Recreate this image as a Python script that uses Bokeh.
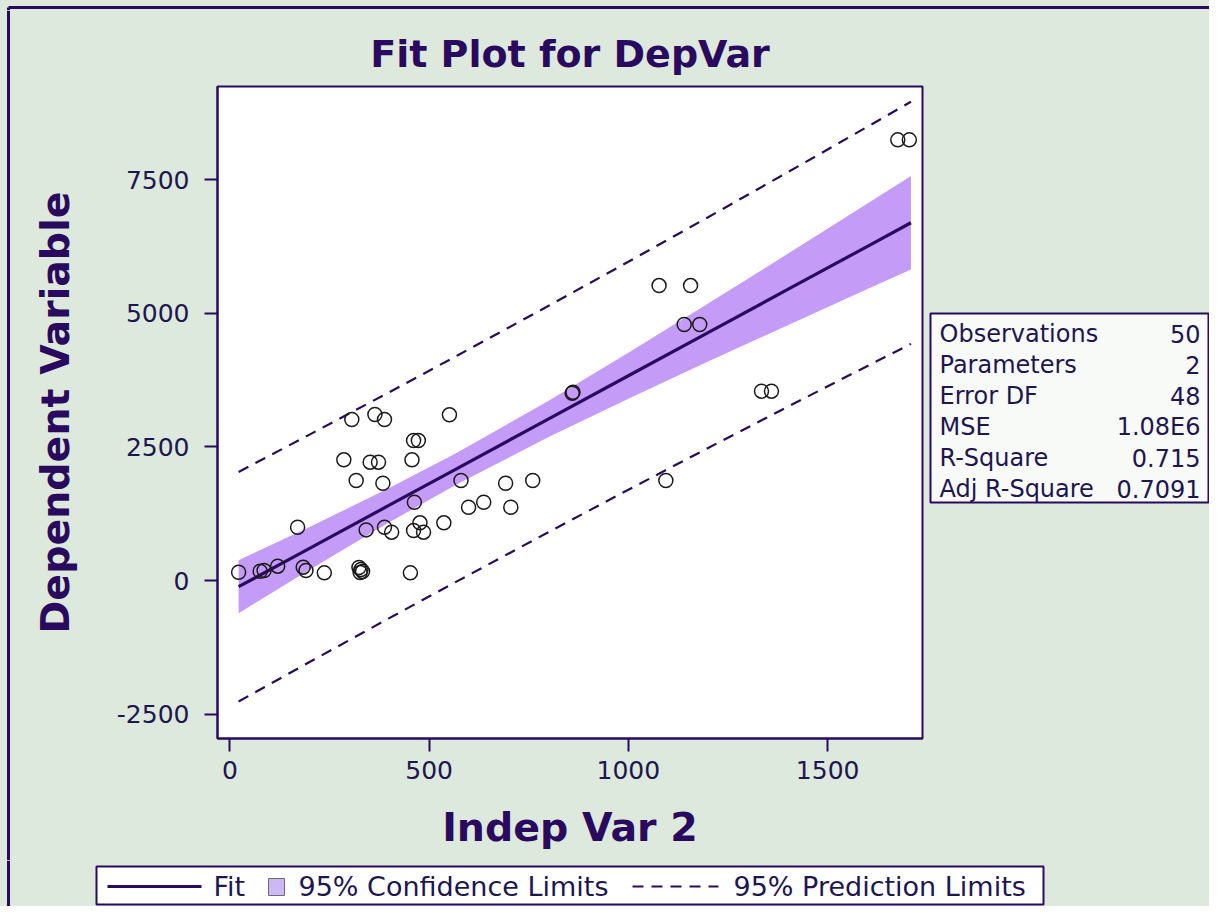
from bokeh.plotting import figure
from bokeh.models import Range1d, FixedTicker
from bokeh.layouts import column, row
from bokeh.core.properties import value
from bokeh.embed import file_html
from bokeh.resources import INLINE

# ---------------- data ----------------
indep = [22, 76, 86, 120, 184, 191, 237, 324, 329, 333, 327, 453,
         170, 342, 388, 406, 461, 477, 486, 537, 463, 317, 384, 580, 599,
         286, 352, 373, 457, 461, 473, 306, 364, 388, 551, 692, 760, 637,
         705, 859, 861, 1077, 1156, 1140, 1179, 1334, 1359, 1094, 1676, 1705]
dep = [155, 174, 187, 268, 250, 187, 143, 243, 206, 168, 150, 143,
       997, 947, 997, 904, 935, 1079, 904, 1079, 1464, 1870, 1820, 1870, 1371,
       2257, 2213, 2213, 2257, 2618, 2618, 3011, 3105, 3011, 3099, 1820, 1870, 1464,
       1371, 3503, 3522, 5517, 5517, 4788, 4788, 3541, 3541, 1870, 8242, 8242]

band_x = [22, 200, 400, 571, 800, 1000, 1200, 1400, 1600, 1709]
fit_y = [-116, 602, 1409, 2099, 3023, 3830, 4637, 5444, 6251, 6691]
lower_cl = [-611, 203, 1089, 1804, 2684, 3402, 4095, 4776, 5451, 5817]
upper_cl = [379, 1001, 1729, 2394, 3362, 4258, 5179, 6112, 7051, 7565]
lower_pl = [-2263, -1525, -704, -11, 907, 1698, 2479, 3251, 4014, 4426]
upper_pl = [2031, 2729, 3522, 4209, 5139, 5962, 6795, 7637, 8488, 8956]

x_ticks = [0, 500, 1000, 1500]
y_ticks = [-2500, 0, 2500, 5000, 7500]

stat_names = ["Observations", "Parameters", "Error DF", "MSE", "R-Square", "Adj R-Square"]
stat_values = ["50", "2", "48", "1.08E6", "0.715", "0.7091"]

legend_labels = ["Fit", "95% Confidence Limits", "95% Prediction Limits"]

# ---------------- styling ----------------
BG = "#dde9dd"
DARK = "#2a0a5e"
TXT = "#1e1650"
BAND = "#c49bf6"
LEG_SQ = "#cbb8f5"
FONT = "DejaVu Sans"
W = 1209
TOP_H = 10
LEFT_W = 10
ROW_H = 850
MAIN_W = 915
SIDE_W = W - LEFT_W - MAIN_W
STRIP_H = 46


def blank(w, h):
    """A figure whose frame is the whole canvas, with pixel-like ranges (y down)."""
    f = figure(frame_width=w, frame_height=h, x_range=Range1d(0, w), y_range=Range1d(h, 0),
               x_axis_type=None, y_axis_type=None, min_border=0,
               output_backend="svg", toolbar_location=None)
    f.outline_line_color = None
    f.grid.visible = False
    f.background_fill_color = BG
    f.border_fill_color = BG
    return f


# ---------------- outer frame pieces ----------------
top_bar = blank(W, TOP_H)
top_bar.line([8, W], [5, 5], line_color=DARK, line_width=3)
top_bar.line([8, 8], [5, TOP_H], line_color=DARK, line_width=3)

left_bar = blank(LEFT_W, ROW_H)
left_bar.line([8, 8], [0, ROW_H], line_color=DARK, line_width=3)

# ---------------- main plot ----------------
X0, X1 = -31, 1738
Y0, Y1 = -2955, 9240

p = figure(frame_width=705, frame_height=652,
           min_border_left=207, min_border_right=3,
           min_border_top=76, min_border_bottom=122,
           x_range=Range1d(X0, X1), y_range=Range1d(Y0, Y1),
           output_backend="svg", toolbar_location=None,
           title="Fit Plot for DepVar")

p.border_fill_color = BG
p.background_fill_color = "white"
p.outline_line_color = DARK
p.outline_line_width = 2
p.grid.visible = False

p.title.align = "center"
p.title.text_font = FONT
p.title.text_font_size = "38px"
p.title.text_font_style = "bold"
p.title.text_color = DARK
p.title.standoff = 22

for ax in (p.xaxis[0], p.yaxis[0]):
    ax.axis_line_color = DARK
    ax.axis_line_width = 2
    ax.major_tick_line_color = DARK
    ax.major_tick_line_width = 2
    ax.major_tick_in = 0
    ax.major_tick_out = 13
    ax.minor_tick_line_color = None
    ax.major_label_text_font = FONT
    ax.major_label_text_font_size = "25px"
    ax.major_label_text_color = TXT
    ax.axis_label_text_font = FONT
    ax.axis_label_text_font_size = "39.5px"
    ax.axis_label_text_font_style = "bold"
    ax.axis_label_text_color = DARK

p.xaxis.ticker = FixedTicker(ticks=x_ticks)
p.yaxis.ticker = FixedTicker(ticks=y_ticks)
p.xaxis.major_label_overrides = {t: str(t) for t in x_ticks}
p.yaxis.major_label_overrides = {t: str(t) for t in y_ticks}
p.xaxis.axis_label = "Indep Var 2"
p.yaxis.axis_label = "Dependent Variable"
p.xaxis.major_label_standoff = 9
p.yaxis.major_label_standoff = 15
p.xaxis.axis_label_standoff = 22
p.yaxis.axis_label_standoff = 36

p.varea(x=band_x, y1=lower_cl, y2=upper_cl, fill_color=BAND, fill_alpha=1.0)
p.line(band_x, lower_pl, line_color=DARK, line_width=2.2, line_dash="11 8")
p.line(band_x, upper_pl, line_color=DARK, line_width=2.2, line_dash="11 8")
p.line(band_x, fit_y, line_color=DARK, line_width=3.2)
p.scatter(indep, dep, marker="circle", size=14, fill_color=None,
          line_color="#1a1a1a", line_width=1.5)

# ---------------- statistics panel (right) ----------------
side = blank(SIDE_W, ROW_H)
box_l, box_r, box_t, box_b = 5, 283, 303, 492
side.quad(left=[box_l], right=[box_r], top=[box_t], bottom=[box_b],
          fill_color="#f7faf7", line_color=DARK, line_width=2)
row_y = [323, 354, 385, 416, 447, 478]
side.text(x=[box_l + 9] * len(stat_names), y=row_y, text=stat_names,
          text_font=value(FONT), text_font_size="24px", text_color=TXT,
          text_align="left", text_baseline="middle")
side.text(x=[box_r - 8] * len(stat_values), y=row_y, text=stat_values,
          text_font=value(FONT), text_font_size="24px", text_color=TXT,
          text_align="right", text_baseline="middle")

# ---------------- legend strip (bottom) ----------------
strip = blank(W, STRIP_H)
strip.line([8, 8], [0, STRIP_H], line_color=DARK, line_width=3)
LY = 26
strip.quad(left=[96], right=[1043], top=[6], bottom=[44],
           fill_color="white", line_color=DARK, line_width=2)
strip.line([107, 201], [LY, LY], line_color=DARK, line_width=3.2)
strip.quad(left=[268], right=[284], top=[LY - 8], bottom=[LY + 9],
           fill_color=LEG_SQ, line_color="#6a6a7a", line_width=1)
strip.line([632, 718], [LY, LY], line_color=DARK, line_width=2.2, line_dash="11 8")
strip.text(x=[213, 298, 733], y=[LY, LY, LY], text=legend_labels,
           text_font=value(FONT), text_font_size="27px", text_color=TXT,
           text_align="left", text_baseline="middle")

middle = row(column(left_bar, styles={"background-color": BG}),
             column(p, styles={"background-color": BG}),
             column(side, styles={"background-color": BG}),
             styles={"background-color": BG})
layout = column(top_bar, middle, strip, styles={"background-color": BG})

open("out.html", "w").write(file_html(layout, INLINE))
